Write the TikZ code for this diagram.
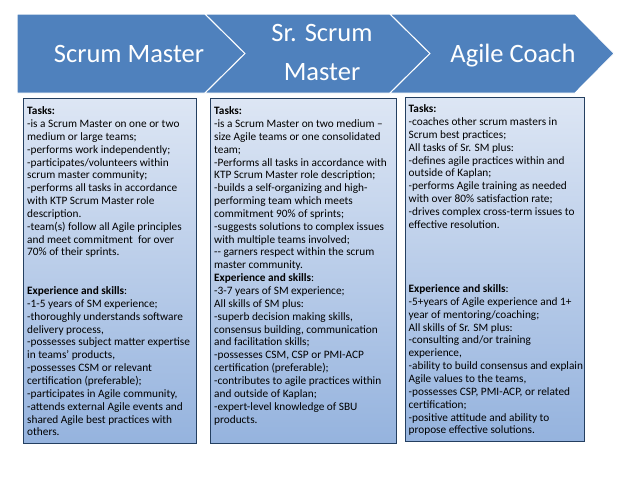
\documentclass[tikz,border=0pt]{standalone}
\usepackage{fontspec}
\setmainfont{Carlito}
\definecolor{chev}{HTML}{4F81BD}
\definecolor{boxtop}{HTML}{DDE6F4}
\definecolor{boxbot}{HTML}{95B3DE}
\definecolor{boxline}{HTML}{243F60}
\begin{document}
\begin{tikzpicture}[x=1pt,y=-1pt,
  chevron/.style={fill=chev, draw=white, line width=1pt, line join=miter},
  title/.style={text=white, font=\fontsize{26.5}{30}\selectfont, inner sep=0pt, anchor=base},
  card/.style={draw=boxline, line width=0.9pt, top color=boxtop, bottom color=boxbot,
    minimum width=#1, inner sep=0pt, anchor=north west},
  cardtext/.style={align=left, anchor=north west, inner sep=0pt,
    font=\fontsize{11.3}{12.85}\selectfont}]
\fill[white] (0,0) rectangle (638,479);
\useasboundingbox (0,0) rectangle (638,479);
% chevrons
\path[chevron] (17,14) -- (205,14) -- (245,53.5) -- (205,93) -- (17,93) -- cycle;
\path[chevron] (205,14) -- (390,14) -- (430,53.5) -- (390,93) -- (205,93) -- (245,53.5) -- cycle;
\path[chevron] (390,14) -- (575,14) -- (614,53.5) -- (575,93) -- (390,93) -- (430,53.5) -- cycle;
\node[title] (c1) at (129,62) {Scrum Master};
\node[title] (c2a) at (322,41.5) {Sr. Scrum};
\node[title] (c2b) at (322,80) {Master};
\node[title] (c3) at (513,62) {Agile Coach};
% cards
\node[card=173pt, minimum height=345pt] (box1) at (23,98) {};
\node[card=186pt, minimum height=345pt] (box2) at (210,98) {};
\node[card=179pt, minimum height=344pt] (box3) at (405,97) {};
\node[cardtext] (t1) at ([xshift=4pt,yshift=-8.5pt]box1.north west) {%
\textbf{Tasks:}\\
-is a Scrum Master on one or two\\
medium or large teams;\\
-performs work independently;\\
-participates/volunteers within\\
scrum master community;\\
-performs all tasks in accordance\\
with KTP Scrum Master role\\
description.\\
-team(s) follow all Agile principles\\
and meet commitment~ for over\\
70\% of their sprints.\\
\mbox{}\\
\mbox{}\\
\textbf{Experience and skills}:\\
-1-5 years of SM experience;\\
-thoroughly understands software\\
delivery process,\\
-possesses subject matter expertise\\
in teams’ products,\\
-possesses CSM or relevant\\
certification (preferable);\\
-participates in Agile community,\\
-attends external Agile events and\\
shared Agile best practices with\\
others.};
\node[cardtext] (t2) at ([xshift=4pt,yshift=-8.5pt]box2.north west) {%
\textbf{Tasks:}\\
-is a Scrum Master on two medium –\\
size Agile teams or one consolidated\\
team;\\
-Performs all tasks in accordance with\\
KTP Scrum Master role description;\\
-builds a self-organizing and high-\\
performing team which meets\\
commitment 90\% of sprints;\\
-suggests solutions to complex issues\\
with multiple teams involved;\\
-{}- garners respect within the scrum\\
master community.\\
\textbf{Experience and skills}:\\
-3-7 years of SM experience;\\
All skills of SM plus:\\
-superb decision making skills,\\
consensus building, communication\\
and facilitation skills;\\
-possesses CSM, CSP or PMI-ACP\\
certification (preferable);\\
-contributes to agile practices within\\
and outside of Kaplan;\\
-expert-level knowledge of SBU\\
products.};
\node[cardtext] (t3) at ([xshift=3.5pt,yshift=-7.5pt]box3.north west) {%
\textbf{Tasks:}\\
-coaches other scrum masters in\\
Scrum best practices;\\
All tasks of Sr. SM plus:\\
-defines agile practices within and\\
outside of Kaplan;\\
-performs Agile training as needed\\
with over 80\% satisfaction rate;\\
-drives complex cross-term issues to\\
effective resolution.\\
\mbox{}\\
\mbox{}\\
\mbox{}\\
\mbox{}\\
\textbf{Experience and skills}:\\
-5+years of Agile experience and 1+\\
year of mentoring/coaching;\\
All skills of Sr. SM plus:\\
-consulting and/or training\\
experience,\\
-ability to build consensus and explain\\
Agile values to the teams,\\
-possesses CSP, PMI-ACP, or related\\
certification;\\
-positive attitude and ability to\\
propose effective solutions.};
\end{tikzpicture}
\end{document}
